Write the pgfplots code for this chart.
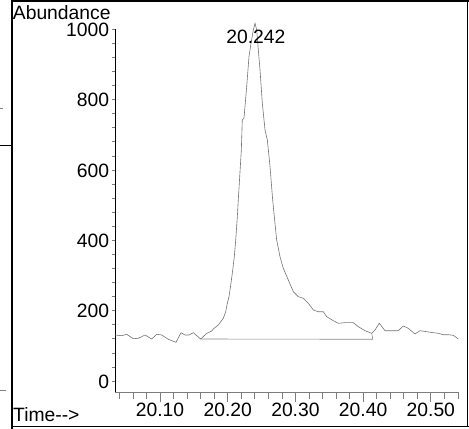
\documentclass[border=0pt]{standalone}
\usepackage{fontspec}
\setmainfont{Liberation Sans}
\usepackage{pgfplots}
\pgfplotsset{compat=1.18}
\definecolor{trace}{RGB}{115,115,115}
\definecolor{basel}{RGB}{135,135,135}
\definecolor{tickc}{RGB}{125,125,125}
\newcommand{\lbl}{\fontsize{19.3bp}{22bp}\selectfont}

\begin{document}
\begin{tikzpicture}
\path[use as bounding box] (0,0) rectangle (469bp,-429bp);
% frame of the panel
\draw[line width=2bp] (12bp,0) -- (12bp,-429bp);
\draw[line width=1.3bp] (12bp,-1bp) -- (469bp,-1bp);
\draw[line width=1.3bp] (467.5bp,0) -- (467.5bp,-427bp);
\draw[line width=1.3bp] (12bp,-426.5bp) -- (469bp,-426.5bp);
\draw[line width=0.8bp] (0,-145bp) -- (12bp,-145bp);
\draw[gray, line width=0.8bp] (0,-108bp) -- (3bp,-108bp);
\draw[gray, line width=0.8bp] (0,-390bp) -- (6bp,-390bp);
\node[anchor=base west, inner sep=0pt, font=\lbl] at (12.7bp,-19.5bp) {Abundance};
\node[anchor=base west, inner sep=0pt, font=\lbl] at (13bp,-421bp) {Time-{}-{}>};

\begin{axis}[
  at={(115bp,-392bp)}, anchor=south west,
  scale only axis, width=344bp, height=362.7bp,
  xmin=20.0335, xmax=20.5416, ymin=-31.3, ymax=1000,
  axis x line*=bottom, axis y line*=left,
  x axis line style={tickc, line width=0.7bp, -},
  y axis line style={black, line width=0.9bp, -},
  clip=false,
  tick align=outside,
  xtick={20.1,20.2,20.3,20.4,20.5},
  xticklabels={20.10,20.20,20.30,20.40,20.50},
  minor xtick={20.04,20.06,20.08,20.12,20.14,20.16,20.18,20.22,20.24,20.26,20.28,20.32,20.34,20.36,20.38,20.42,20.44,20.46,20.48,20.52,20.54},
  ytick={0,200,400,600,800,1000},
  yticklabels={0,200,400,600,800,1000},
  minor ytick={40,80,120,160,240,280,320,360,440,480,520,560,640,680,720,760,840,880,920,960},
  x tick style={tickc, line width=0.7bp, /pgfplots/major tick length=10bp, /pgfplots/minor tick length=7bp},
  y tick style={tickc, line width=0.7bp, /pgfplots/major tick length=3bp, /pgfplots/minor tick length=3bp},
  xticklabel style={font=\lbl, inner sep=0pt, anchor=north, yshift=-6.7bp},
  yticklabel style={font=\lbl, inner sep=0pt, anchor=east, xshift=-1.5bp, yshift=-0.5bp},
]
\addplot[trace, line width=0.6bp] coordinates {
(20.0335,130.8) (20.0434,128.8) (20.0508,132.8) (20.0605,120.3) (20.0679,121.4)
(20.0778,130.8) (20.0877,119.4) (20.0951,132.8) (20.1025,130.8) (20.1122,118.6)
(20.1236,110.0) (20.1310,137.3) (20.1369,130.8) (20.1428,130.8) (20.1492,137.3)
(20.1601,119.4) (20.1690,135.6) (20.1763,142.2) (20.1787,147.9) (20.1861,159.2)
(20.1935,178.3) (20.1970,197.0) (20.1994,220.9) (20.2019,239.7) (20.2048,277.8)
(20.2074,315.6) (20.2097,353.4) (20.2118,400.9) (20.2142,467.2) (20.2156,514.6)
(20.2171,562.1) (20.2186,609.3) (20.2201,656.8) (20.2215,742.1) (20.2240,746.9)
(20.2280,836.8) (20.2314,922.1) (20.2344,960.2) (20.2378,998.0) (20.2403,1017.1)
(20.2428,998.0) (20.2452,941.1) (20.2477,884.3) (20.2511,789.6) (20.2551,713.7)
(20.2585,685.2) (20.2625,609.3) (20.2664,514.6) (20.2698,448.4) (20.2723,400.9)
(20.2772,353.4) (20.2821,320.4) (20.2895,287.2) (20.2969,253.9) (20.3043,239.7)
(20.3116,235.1) (20.3190,220.9) (20.3264,201.9) (20.3338,197.0) (20.3412,197.0)
(20.3462,182.8) (20.3560,171.5) (20.3633,164.1) (20.3732,165.8) (20.3855,165.8)
(20.3929,154.4) (20.4028,143.0) (20.4127,135.6) (20.4175,145.0) (20.4239,164.1)
(20.4323,143.0) (20.4422,143.0) (20.4520,143.0) (20.4593,156.4) (20.4667,149.8)
(20.4766,133.6) (20.4840,143.0) (20.4939,140.2) (20.5037,137.3) (20.5111,135.6)
(20.5184,131.6) (20.5258,131.6) (20.5332,129.9) (20.5406,119.4)
};
\addplot[basel, line width=0.6bp] coordinates {
(20.1601,119.4) (20.4142,118.6) (20.4127,135.6)
};
\node[anchor=base, inner sep=0pt, font=\lbl] at (axis cs:20.2415,960) {20.242};
\end{axis}
\end{tikzpicture}
\end{document}
